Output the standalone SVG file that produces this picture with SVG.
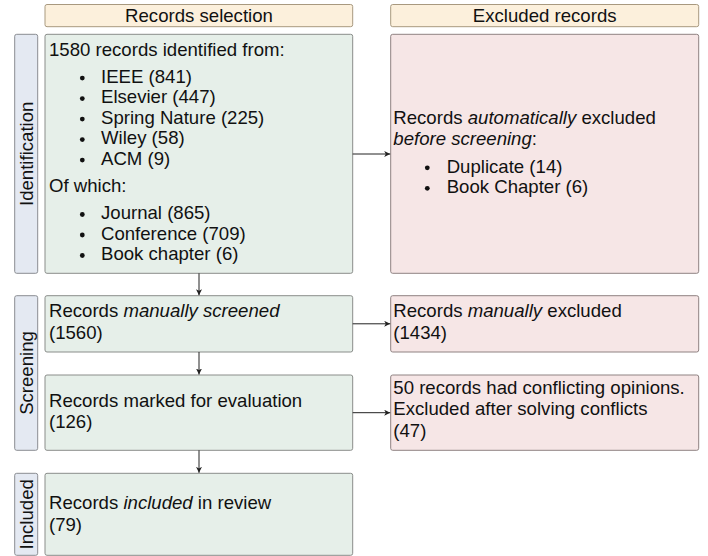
<svg xmlns="http://www.w3.org/2000/svg" width="708" height="556" viewBox="0 0 708 556">
<defs>
<style>
text{font-family:"Liberation Sans",Arial,Helvetica,sans-serif;font-size:18.6px;fill:#111}
.hdr{fill:#fcf0dc;stroke:#a8997f;stroke-width:1}
.grn{fill:#e6efe9;stroke:#8a8d8a;stroke-width:1}
.pnk{fill:#f6e6e6;stroke:#8f8282;stroke-width:1}
.lbl{fill:#e4e9f2;stroke:#8a8d92;stroke-width:1}
.mid{text-anchor:middle}
.it{font-style:italic}
.dot{fill:#111}
.conn line{stroke:#222;stroke-width:1;marker-end:url(#ah)}
</style>
<marker id="ah" markerUnits="userSpaceOnUse" markerWidth="8" markerHeight="8" refX="6" refY="3" orient="auto">
<path d="M0,0 L6,3 L0,6 L1.6,3 Z" fill="#222"/>
</marker>
</defs>
<rect width="708" height="556" fill="#fff"/>

<g id="hdr-selection">
<rect class="hdr" x="45" y="4.5" width="307.7" height="22.2" rx="2"/>
<text class="mid" x="199" y="22">Records selection</text>
</g>
<g id="hdr-excluded">
<rect class="hdr" x="390.7" y="4.5" width="308" height="22.2" rx="2"/>
<text class="mid" x="544.7" y="22">Excluded records</text>
</g>

<g id="lbl-identification">
<rect class="lbl" x="14.7" y="34.3" width="23" height="239" rx="2"/>
<text class="mid" transform="translate(33,153.8) rotate(-90)">Identification</text>
</g>
<g id="lbl-screening">
<rect class="lbl" x="14.7" y="295.7" width="23" height="154.6" rx="2"/>
<text class="mid" transform="translate(33,373) rotate(-90)">Screening</text>
</g>
<g id="lbl-included">
<rect class="lbl" x="14.7" y="473.3" width="23" height="82" rx="2"/>
<text class="mid" transform="translate(33,514.3) rotate(-90)">Included</text>
</g>

<g id="identified">
<rect class="grn" x="45" y="34.3" width="307.7" height="239" rx="2"/>
<text x="49" y="55.7">1580 records identified from:</text>
<circle class="dot" cx="82.3" cy="78.1" r="2.4"/><text x="101" y="82.9">IEEE (841)</text>
<circle class="dot" cx="82.3" cy="98.6" r="2.4"/><text x="101" y="103.4">Elsevier (447)</text>
<circle class="dot" cx="82.3" cy="119.1" r="2.4"/><text x="101" y="123.9">Spring Nature (225)</text>
<circle class="dot" cx="82.3" cy="139.6" r="2.4"/><text x="101" y="144.4">Wiley (58)</text>
<circle class="dot" cx="82.3" cy="160.1" r="2.4"/><text x="101" y="164.9">ACM (9)</text>
<text x="49" y="192.1">Of which:</text>
<circle class="dot" cx="82.3" cy="214.5" r="2.4"/><text x="101" y="219.3">Journal (865)</text>
<circle class="dot" cx="82.3" cy="235" r="2.4"/><text x="101" y="239.8">Conference (709)</text>
<circle class="dot" cx="82.3" cy="255.5" r="2.4"/><text x="101" y="260.3">Book chapter (6)</text>
</g>

<g id="auto-excluded">
<rect class="pnk" x="390.7" y="34.3" width="308" height="239" rx="2"/>
<text x="393.3" y="123.5">Records <tspan class="it">automatically</tspan> excluded</text>
<text x="393.3" y="145"><tspan class="it">before screening</tspan>:</text>
<circle class="dot" cx="427.3" cy="167.8" r="2.4"/><text x="446.7" y="172.6">Duplicate (14)</text>
<circle class="dot" cx="427.3" cy="188.3" r="2.4"/><text x="446.7" y="193.1">Book Chapter (6)</text>
</g>

<g id="screened">
<rect class="grn" x="45" y="295.7" width="307.7" height="56.3" rx="2"/>
<text x="49" y="317">Records <tspan class="it">manually screened</tspan></text>
<text x="49" y="338.5">(1560)</text>
</g>
<g id="manually-excluded">
<rect class="pnk" x="390.7" y="295.7" width="308" height="56.3" rx="2"/>
<text x="393.3" y="317">Records <tspan class="it">manually</tspan> excluded</text>
<text x="393.3" y="338.5">(1434)</text>
</g>

<g id="evaluation">
<rect class="grn" x="45" y="375" width="307.7" height="75.3" rx="2"/>
<text x="49" y="406.5">Records marked for evaluation</text>
<text x="49" y="428">(126)</text>
</g>
<g id="conflicts">
<rect class="pnk" x="390.7" y="375" width="308" height="75.3" rx="2"/>
<text x="393.3" y="393.5">50 records had conflicting opinions.</text>
<text x="393.3" y="415">Excluded after solving conflicts</text>
<text x="393.3" y="436.5">(47)</text>
</g>

<g id="included">
<rect class="grn" x="45" y="473.3" width="307.7" height="82" rx="2"/>
<text x="49" y="509">Records <tspan class="it">included</tspan> in review</text>
<text x="49" y="530.5">(79)</text>
</g>

<g id="connectors" class="conn">
<line x1="199" y1="273.3" x2="199" y2="295.2"/>
<line x1="199" y1="352" x2="199" y2="374.5"/>
<line x1="199" y1="450.3" x2="199" y2="472.8"/>
<line x1="352.7" y1="154" x2="390.2" y2="154"/>
<line x1="352.7" y1="323.8" x2="390.2" y2="323.8"/>
<line x1="352.7" y1="412.7" x2="390.2" y2="412.7"/>
</g>
</svg>
